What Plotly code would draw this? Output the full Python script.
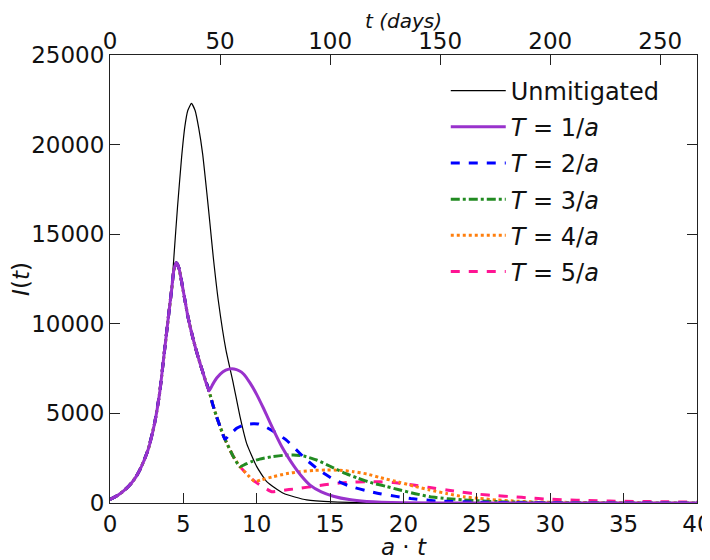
import plotly.graph_objects as go

# ---- data (x = a*t, y = I(t)) ----
rise_x = [0, 0.4, 0.77, 1.1, 1.45, 1.8, 2.14, 2.59, 3.04, 3.38, 3.72, 4.06, 4.2]
rise_y = [200, 370, 575, 800, 1100, 1500, 2030, 2960, 4450, 6120, 8540, 10950, 11900]

unmit_x = [4.36, 4.6, 4.88, 5.1, 5.3, 5.55, 5.8, 6.05, 6.31, 6.6, 6.81, 7.04, 7.38, 7.9,
           8.4, 8.86, 9.31, 10.0, 10.68, 11.81, 13.4, 15.2, 17.5, 20, 25, 30, 40]
unmit_y = [13800, 16500, 19300, 21000, 21900, 22300, 21900, 20900, 19500, 17300, 15600, 13700,
           11300, 8540, 6680, 4820, 3330, 2030, 1190, 540, 170, 60, 20, 8, 2, 0, 0]

mitig_x = [4.35, 4.52, 4.7, 5.0, 5.31, 5.65, 6.0, 6.4, 6.75]
mitig_y = [13000, 13400, 13100, 11800, 10400, 9200, 8160, 7100, 6250]

decl_x = [7.0, 7.27, 7.55, 7.84, 8.4, 8.86, 9.4, 9.88, 10.5, 11.02]
decl_y = [5500, 4800, 4150, 3550, 2600, 2030, 1550, 1190, 870, 630]

t1_x = [7.0, 7.3, 7.7, 8.1, 8.45, 8.8, 9.1, 9.54, 10.0, 10.45, 10.9, 11.3, 11.7, 12.1,
        12.5, 13.0, 13.63, 14.4, 15.22, 16.3, 17.49, 20, 25, 40]
t1_y = [6620, 7000, 7330, 7470, 7480, 7380, 7200, 6700, 6050, 5300, 4500, 3800, 3150, 2600,
        2100, 1550, 1000, 620, 380, 190, 90, 20, 0, 0]

t2_x = [8.1, 8.4, 8.63, 9.0, 9.36, 9.75, 10.11, 10.6, 11.36, 12.0, 12.49, 13.4, 14.3, 15.22,
        16.3, 17.4, 18.4, 19.5, 20.5, 22.3, 25, 28, 32, 40]
t2_y = [3780, 4000, 4170, 4320, 4400, 4420, 4410, 4250, 3890, 3520, 3140, 2400, 1800, 1330,
        950, 700, 520, 370, 250, 110, 50, 20, 5, 0]

t3_x = [9.2, 9.6, 10.2, 11.0, 11.8, 12.49, 13.2, 14.08, 15.0, 15.9, 16.9, 17.94, 18.8,
        19.76, 20.8, 21.8, 23, 24.08, 25.4, 27, 30, 35, 40]
t3_y = [2150, 2300, 2450, 2580, 2660, 2680, 2620, 2400, 2050, 1700, 1380, 1100, 930,
        725, 520, 350, 240, 170, 110, 60, 25, 5, 0]

t4_x = [10.3, 11.13, 12.0, 12.95, 13.9, 14.76, 15.6, 16.58, 17.5, 18.4, 19.76, 20.8, 21.8,
        23, 24.08, 25.2, 26.35, 27.5, 28.6, 30, 33, 36, 40]
t4_y = [1290, 1470, 1630, 1750, 1820, 1840, 1830, 1750, 1620, 1420, 1150, 920, 725,
        520, 350, 250, 170, 110, 70, 45, 20, 8, 2]

t5_x = [11.5, 12.2, 12.95, 14.0, 15.22, 16.3, 17.49, 18.4, 19.3, 20.67, 21.8, 22.94, 24,
        25.2, 26.3, 27.5, 28.6, 29.76, 31.1, 32.5, 34.07, 36, 37.5, 40]
t5_y = [680, 750, 820, 950, 1080, 1160, 1190, 1180, 1140, 1000, 860, 725, 600,
        485, 410, 350, 280, 220, 170, 140, 110, 85, 70, 50]

kink_idx = {"T2": 3, "T3": 5, "T4": 7, "T5": 9}  # index into decl arrays where each curve leaves

x_ticks = [0, 5, 10, 15, 20, 25, 30, 35, 40]
y_ticks = [0, 5000, 10000, 15000, 20000, 25000]
day_ticks = [0, 50, 100, 150, 200, 250]
a_rate = 0.15  # per day, maps a*t to days

FONT = "DejaVu Sans"
FS = 23
fig = go.Figure()

def add(name, xs, ys, color, width, dash, rank):
    fig.add_trace(go.Scatter(x=xs, y=ys, mode="lines", name=name, legendrank=rank,
                             legendgroup=str(rank),
                             line=dict(color=color, width=width, dash=dash,
                                       shape="spline", smoothing=0.5)))

add("Unmitigated", rise_x + unmit_x, rise_y + unmit_y, "black", 1.2, "solid", 1)

base_x = rise_x + mitig_x
base_y = rise_y + mitig_y

def with_decl(k, xs, ys):
    return base_x + decl_x[:k + 1] + xs, base_y + decl_y[:k + 1] + ys

series = [
    ("<i>T</i> = 1/<i>a</i>", base_x + t1_x, base_y + t1_y, "#9932CC", 3, "solid", 2),
    ("<i>T</i> = 2/<i>a</i>", *with_decl(kink_idx["T2"], t2_x, t2_y), "#0000FF", 3, "dash", 3),
    ("<i>T</i> = 3/<i>a</i>", *with_decl(kink_idx["T3"], t3_x, t3_y), "#228B22", 3, "dashdot", 4),
    ("<i>T</i> = 4/<i>a</i>", *with_decl(kink_idx["T4"], t4_x, t4_y), "#FF7F0E", 3, "dot", 5),
    ("<i>T</i> = 5/<i>a</i>", *with_decl(kink_idx["T5"], t5_x, t5_y), "#FF1493", 3, "dash", 6),
]
# draw T=5 first so T=1 ends up on top; legend order kept via legendrank
for name, xs, ys, c, w, d, r in reversed(series):
    add(name, xs, ys, c, w, d, r)

# invisible carrier trace so the top (days) axis is drawn
fig.add_trace(go.Scatter(x=day_ticks, y=[None] * len(day_ticks), xaxis="x2", mode="lines",
                         showlegend=False, hoverinfo="skip"))

axis_common = dict(showline=True, linecolor="#222", linewidth=1.2, ticks="inside", ticklen=10,
                   tickwidth=1.2, tickcolor="#222", showgrid=False, zeroline=False,
                   automargin=False, tickformat="d", ticklabeloverflow="allow",
                   tickfont=dict(family=FONT, size=FS, color="#111"))

# the page body adds an 8px offset, so the figure is 8px smaller and margins shifted
fig.update_layout(
    width=702, height=552,
    margin=dict(l=102, r=13, t=47, b=57),
    paper_bgcolor="white", plot_bgcolor="white",
    font=dict(family=FONT, size=FS, color="#111"),
    xaxis=dict(range=[0, 40.0001], tickvals=x_ticks, **axis_common,
               title=dict(text="<i>a</i> · <i>t</i>", font=dict(family=FONT, size=FS), standoff=12)),
    xaxis2=dict(range=[0, 40.0001 / a_rate], tickvals=day_ticks, overlaying="x", side="top",
                ticklabelstandoff=-4, **axis_common),
    yaxis=dict(range=[0, 25000], tickvals=y_ticks, mirror="ticks", **axis_common,
               title=dict(text="<i>I</i>(<i>t</i>)", font=dict(family=FONT, size=FS), standoff=18)),
    legend=dict(x=0.572, y=0.97, xanchor="left", yanchor="top", bgcolor="rgba(0,0,0,0)",
                itemwidth=55, tracegroupgap=2,
                font=dict(family=FONT, size=24, color="#111")),
    annotations=[dict(text="<i>t (days)</i>", xref="paper", yref="paper", x=0.5, y=1,
                      xanchor="center", yanchor="top", yshift=48, showarrow=False,
                      font=dict(family=FONT, size=20, color="#111"))],
    showlegend=True,
)
fig.write_html("out.html")
